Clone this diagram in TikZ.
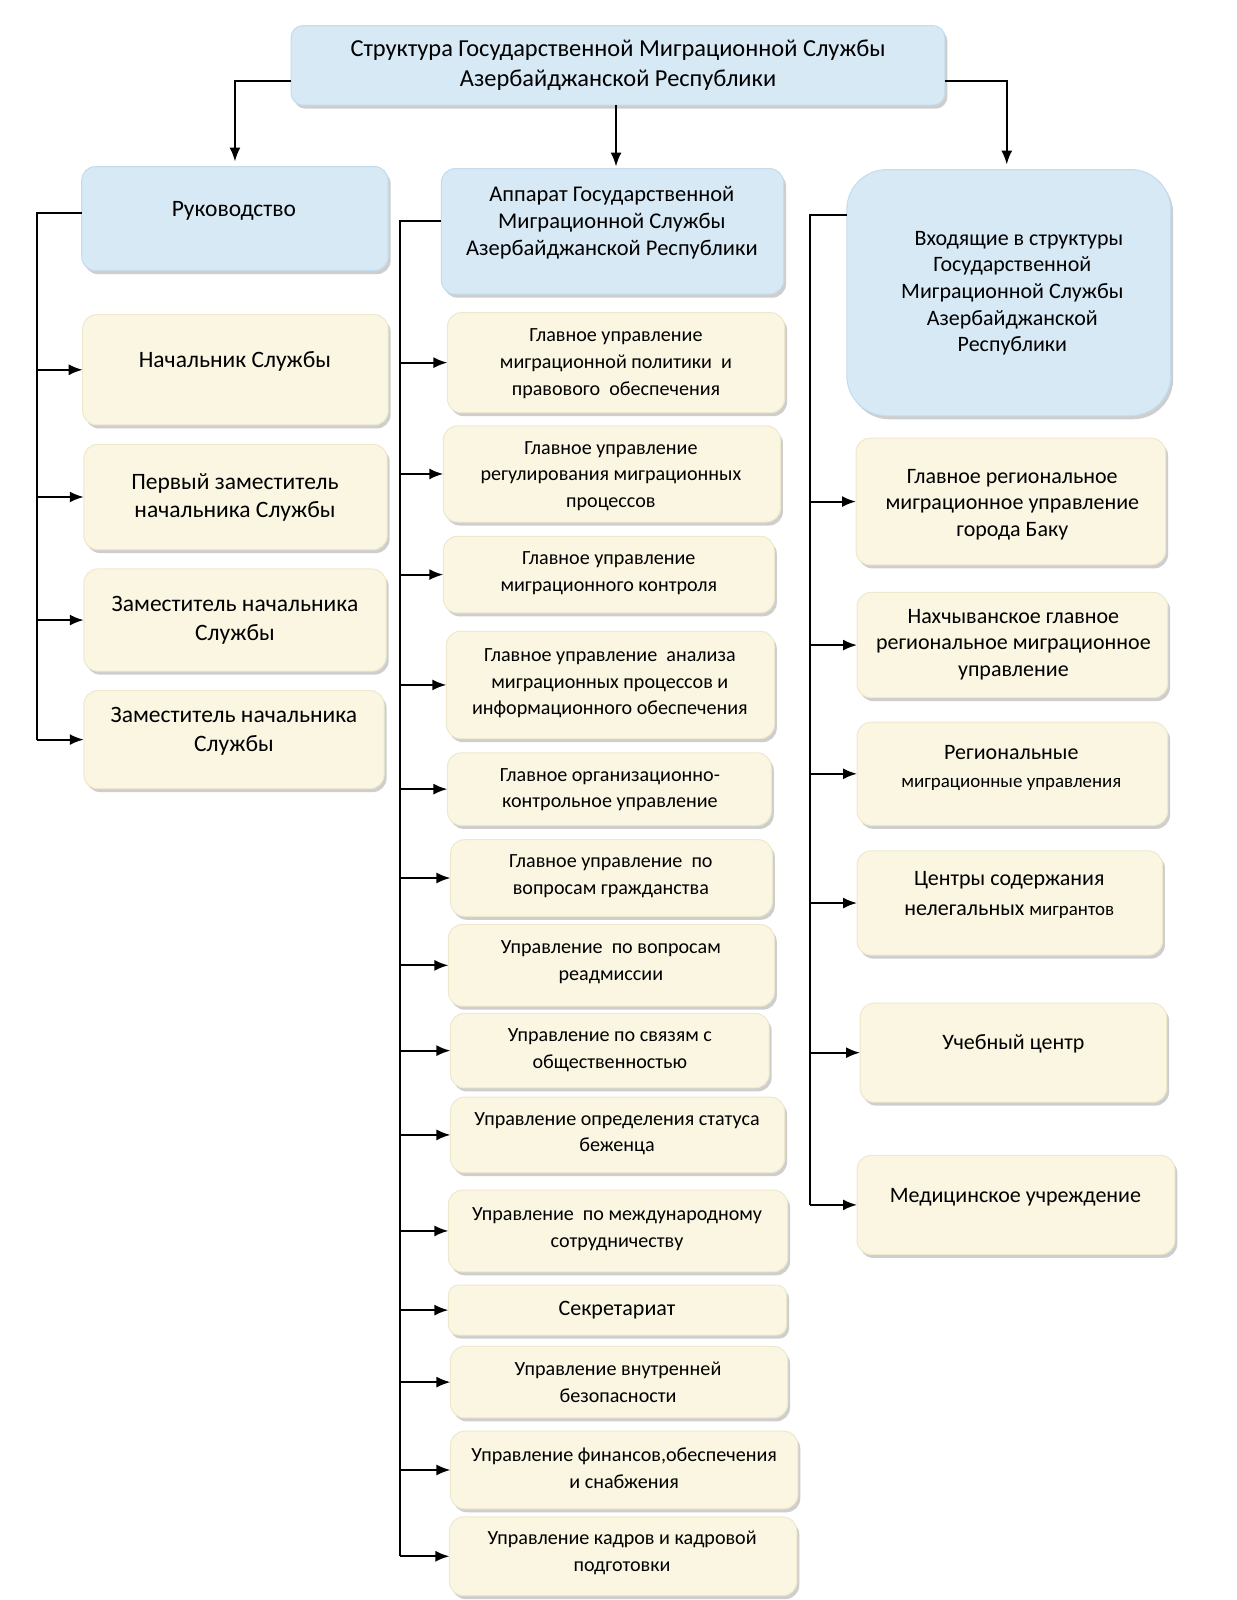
\documentclass[tikz,border=0pt]{standalone}
\usepackage{fontspec}
\setmainfont{Carlito}
\usetikzlibrary{arrows.meta,shadows,fit}

\definecolor{bluefill}{RGB}{214,233,245}
\definecolor{blueline}{RGB}{196,220,236}
\definecolor{creamfill}{RGB}{250,246,226}
\definecolor{creamline}{RGB}{238,232,205}

\tikzset{
 box/.style={draw, line width=1pt, rounded corners=14pt, inner sep=0pt, outer sep=0pt,
   drop shadow={shadow xshift=2.5pt, shadow yshift=-3.5pt, opacity=0.35, fill=black!55}},
 bluebox/.style={box, fill=bluefill, draw=blueline},
 creambox/.style={box, fill=creamfill, draw=creamline},
 toptxt/.style={align=center, font=\fontsize{24.4}{29.6}\selectfont, inner sep=0pt},
 bigtxt/.style={align=center, font=\fontsize{23.5}{28.6}\selectfont, inner sep=0pt},
 rtxt/.style={align=center, font=\fontsize{22}{26.6}\selectfont, inner sep=0pt},
 smalltxt/.style={align=center, font=\fontsize{20.1}{26.6}\selectfont, inner sep=0pt},
 link/.style={line width=2pt, black},
 arr/.style={link, -{Latex[length=14pt,width=11pt]}},
}
\newcommand\mkbox[6]{\node[#2, fit={(#3,#4) (#5,#6)}] (#1) {};}

\begin{document}
\begin{tikzpicture}[x=1.0215pt,y=-1.0215pt]
\useasboundingbox (0,0) rectangle (1210,1566.3);
\fill[white] (0,0) rectangle (1210,1566.3);

% ---------- boxes ----------
\mkbox{top}{bluebox, rounded corners=12pt}{285}{25}{925}{103}
\mkbox{ruk}{bluebox}{80}{163}{380}{265}
\mkbox{l1}{creambox}{81}{308}{380}{416}
\mkbox{l2}{creambox}{82}{435}{379}{538}
\mkbox{l3}{creambox}{82}{557}{378}{657}
\mkbox{l4}{creambox}{82}{676}{376}{772}

\mkbox{app}{bluebox}{432}{165}{767}{288}
\mkbox{m1}{creambox}{438}{306}{768}{404}
\mkbox{m2}{creambox}{434}{417}{764}{511}
\mkbox{m3}{creambox}{434}{525}{758}{600}
\mkbox{m4}{creambox}{437}{618}{758}{723}
\mkbox{m5}{creambox}{438}{737}{755}{808}
\mkbox{m6}{creambox}{441}{822}{756}{897}
\mkbox{m7}{creambox}{439}{905}{758}{985}
\mkbox{m8}{creambox}{441}{992}{753}{1065}
\mkbox{m9}{creambox}{441}{1074}{768}{1148}
\mkbox{m10}{creambox}{439}{1165}{771}{1245}
\mkbox{m11}{creambox, rounded corners=10pt}{439}{1258}{770}{1307}
\mkbox{m12}{creambox}{441}{1318}{771}{1388}
\mkbox{m13}{creambox}{441}{1401}{781}{1477}
\mkbox{m14}{creambox}{440}{1485}{780}{1562}

\mkbox{vx}{bluebox, rounded corners=40pt}{829}{166}{1146}{407}
\mkbox{r1}{creambox}{838}{429}{1141}{553}
\mkbox{r2}{creambox}{839}{580}{1143}{683}
\mkbox{r3}{creambox}{839}{707}{1143}{808}
\mkbox{r4}{creambox}{839}{833}{1138}{935}
\mkbox{r5}{creambox}{842}{982}{1142}{1079}
\mkbox{r6}{creambox}{839}{1131}{1150}{1228}

% ---------- texts ----------
\node[toptxt] (top-t) at (605,64) {Структура Государственной Миграционной Службы\\Азербайджанской Республики};
\node[bigtxt] (ruk-t) at (229,206) {Руководство};
\node[bigtxt] (l1-t) at (230,354) {Начальник Службы};
\node[bigtxt] (l2-t) at (230,487) {Первый заместитель\\начальника Службы};
\node[bigtxt] (l3-t) at (230,607) {Заместитель начальника\\Службы};
\node[bigtxt] (l4-t) at (229,716) {Заместитель начальника\\Службы};

\node[bigtxt, font=\fontsize{22.5}{27.1}\selectfont] (app-t) at (599,218) {Аппарат Государственной\\Миграционной Службы\\Азербайджанской Республики};
\node[smalltxt] (m1-t) at (603,356) {Главное управление\\миграционной политики~ и\\правового~ обеспечения};
\node[smalltxt] (m2-t) at (598,466) {Главное управление\\регулирования миграционных\\процессов};
\node[smalltxt] (m3-t) at (596,561) {Главное управление\\миграционного контроля};
\node[smalltxt] (m4-t) at (597,669) {Главное управление~ анализа\\миграционных процессов и\\информационного обеспечения};
\node[smalltxt] (m5-t) at (597,773) {Главное организационно-\\контрольное управление};
\node[smalltxt] (m6-t) at (598,858) {Главное управление~ по\\вопросам гражданства};
\node[smalltxt] (m7-t) at (598,942) {Управление~ по вопросам\\реадмиссии};
\node[smalltxt] (m8-t) at (597,1028) {Управление по связям с\\общественностью};
\node[smalltxt] (m9-t) at (604,1110) {Управление определения статуса\\беженца};
\node[smalltxt] (m10-t) at (604,1203) {Управление~ по международному\\сотрудничеству};
\node[smalltxt, font=\fontsize{22}{26.6}\selectfont] (m11-t) at (604,1283) {Секретариат};
\node[smalltxt] (m12-t) at (605,1353) {Управление внутренней\\безопасности};
\node[smalltxt] (m13-t) at (611,1437) {Управление финансов,обеспечения\\и снабжения};
\node[smalltxt] (m14-t) at (609,1520) {Управление кадров и кадровой\\подготовки};

\node[rtxt] (vx-t) at (991,287) {\hspace*{0.6em}Входящие в структуры\\Государственной\\Миграционной Службы\\Азербайджанской\\Республики};
\node[rtxt] (r1-t) at (991,494) {Главное региональное\\миграционное управление\\города Баку};
\node[rtxt] (r2-t) at (992,631) {Нахчыванское главное\\региональное миграционное\\управление};
\node[rtxt, font=\fontsize{22}{28.6}\selectfont] (r3-t) at (990,752) {Региональные\\{\fontsize{18.9}{26.6}\selectfont миграционные управления}};
\node[rtxt, font=\fontsize{22}{30.6}\selectfont] (r4-t) at (988,876) {Центры содержания\\нелегальных {\fontsize{18.9}{26.6}\selectfont мигрантов}};
\node[rtxt] (r5-t) at (992,1022) {Учебный центр};
\node[rtxt] (r6-t) at (994,1172) {Медицинское учреждение};

% ---------- connectors from the top ----------
\draw[arr] ([yshift=-15.3pt]top.west) -| ([yshift=5pt]ruk.north);
\draw[arr] ([xshift=-2pt]top.south) -- ([xshift=-2pt,yshift=2pt]top.south |- app.north);
\draw[arr] ([yshift=-15.3pt]top.east) -| ([xshift=-2pt,yshift=5pt]vx.north);

% ---------- left bus ----------
\coordinate (lbus) at (36,208);
\draw[link] ([yshift=6.1pt]ruk.west) -| (lbus |- l4.west);
\foreach \n in {l1,l2,l3,l4} \draw[arr] (lbus |- \n.west) -- (\n.west);

% ---------- middle bus ----------
\coordinate (mbus) at (392,216);
\draw[link] ([yshift=10.2pt]app.west) -| (mbus |- m14.west);
\foreach \n in {m1,m2,m3,m4,m5,m6,m7,m8,m9,m10,m11,m12,m13,m14} \draw[arr] (mbus |- \n.west) -- (\n.west);

% ---------- right bus ----------
\coordinate (rbus) at (793,210);
\draw[link] ([yshift=77.6pt]vx.west) -| (rbus |- r6.west);
\foreach \n in {r1,r2,r3,r4,r5,r6} \draw[arr] (rbus |- \n.west) -- (\n.west);
\end{tikzpicture}
\end{document}
